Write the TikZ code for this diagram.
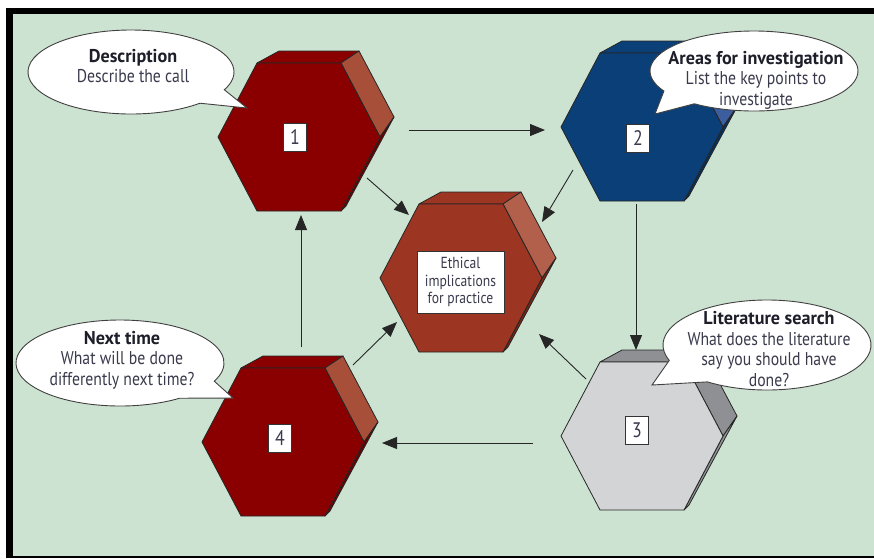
\documentclass[tikz,border=0pt]{standalone}
\usepackage{fontspec}
\setmainfont{PT Sans}[FakeStretch=0.85]
\newfontfamily\ttlfont{PT Sans}[FakeStretch=0.98]
\usetikzlibrary{arrows.meta}
\definecolor{bggreen}{HTML}{CDE3D2}
\definecolor{redfront}{HTML}{8A0000}
\definecolor{redside}{HTML}{A84F3A}
\definecolor{redlow}{HTML}{6A0000}
\definecolor{rustfront}{HTML}{9C3522}
\definecolor{rustside}{HTML}{B2604B}
\definecolor{rustlow}{HTML}{7A2414}
\definecolor{bluefront}{HTML}{0B3F78}
\definecolor{blueside}{HTML}{3D5E9E}
\definecolor{bluelow}{HTML}{082F5A}
\definecolor{greyfront}{HTML}{D3D4D6}
\definecolor{greyside}{HTML}{8F9093}
\definecolor{txt}{HTML}{3A3A4C}
\definecolor{ttl}{HTML}{1E1E2A}
\newcommand{\hexprism}[6]{%
 \begin{scope}[shift={(#1,#2)}]
  \filldraw[hexline, fill=#4] (-42,-74) -- (-20,-86) -- (60,-86) -- (42,-74) -- cycle;
  \filldraw[hexline, fill=#5] (42,-74) -- (60,-86) -- (95,-20) -- (81,0) -- cycle;
  \filldraw[hexline, fill=#6] (81,0) -- (95,-20) -- (47,69) -- (42,74) -- cycle;
  \filldraw[hexline, fill=#3] (-42,-74) -- (42,-74) -- (81,0) -- (42,74) -- (-42,74) -- (-81,0) -- cycle;
 \end{scope}}
\newcommand{\bubble}[8]{%
 \filldraw[bubbleline] (#1,#2) ++(#6:#3 and #4)
   arc[start angle=#6, end angle={#5+360}, x radius=#3, y radius=#4] -- (#7,#8) -- cycle;}
\newcommand{\ttl}[1]{{\ttlfont\bfseries\color{ttl}#1}}
\begin{document}
\begin{tikzpicture}[x=1pt,y=-1pt,
  hexline/.style={draw=black!85, line width=0.8pt, line join=round},
  bubbleline/.style={draw=black!75, line width=0.9pt, fill=white},
  numbox/.style={draw=black!80, fill=white, line width=0.6pt, minimum width=23pt, minimum height=28pt, inner sep=0pt, font=\fontsize{21}{21}\selectfont, text=txt},
  btext/.style={align=center, text=txt, font=\fontsize{18.5}{20.5}\selectfont},
  conn/.style={draw=black!85, line width=0.9pt, -{Triangle[length=15pt,width=12pt]}}]
\useasboundingbox (0,0) rectangle (874,558);
\fill[white] (0,0) rectangle (874,558);
\fill[black] (6,8) rectangle (874,558);
\fill[bggreen] (13,14) rectangle (874,556);
% hexagonal prisms
\hexprism{299}{137}{redfront}{redfront}{redside}{redlow}
\hexprism{642}{127}{bluefront}{bluefront}{blueside}{bluelow}
\hexprism{642}{436}{greyfront}{greyside}{greyside}{greyside}
\hexprism{283}{442}{redfront}{redfront}{redside}{redlow}
\hexprism{461}{278}{rustfront}{rustfront}{rustside}{rustlow}
% labels
\node[numbox] (n1) at (295,137) {1};
\node[numbox] (n2) at (638,138) {2};
\node[numbox] (n3) at (637,430) {3};
\node[numbox] (n4) at (280,438) {4};
\node[draw=black!80, fill=white, line width=0.6pt, minimum width=87pt, minimum height=62pt, inner sep=0pt, align=center, text=txt, font=\fontsize{16}{17.5}\selectfont] (nc) at (460.5,282) {Ethical\\implications\\for practice};
% connectors
\coordinate (a1s) at (409,130); \coordinate (a1e) at (545,130);
\coordinate (a2s) at (636,204); \coordinate (a2e) at (636,350);
\coordinate (a3s) at (533,443); \coordinate (a3e) at (382,443);
\coordinate (a4s) at (301,347); \coordinate (a4e) at (301,215);
\coordinate (c1s) at (367,178); \coordinate (c1e) at (409,215);
\coordinate (c2s) at (573,170); \coordinate (c2e) at (542,222);
\coordinate (c3s) at (586,379); \coordinate (c3e) at (539,334);
\coordinate (c4s) at (353,365); \coordinate (c4e) at (397,322);
\draw[conn] (a1s) -- (a1e);
\draw[conn] (a2s) -- (a2e);
\draw[conn] (a3s) -- (a3e);
\draw[conn] (a4s) -- (a4e);
\draw[conn] (c1s) -- (c1e);
\draw[conn] (c2s) -- (c2e);
\draw[conn] (c3s) -- (c3e);
\draw[conn] (c4s) -- (c4e);
% speech bubbles
\bubble{131}{72}{103}{42}{25}{48}{247}{108}
\bubble{754}{71}{104}{40}{125}{150}{655}{114}
\bubble{767}{345}{104}{45}{125}{160}{652}{385}
\bubble{120}{363}{104}{43}{25}{55}{233}{398}
\node[btext] (b1) at (133,66) {\ttl{Description}\\Describe the call};
\node[btext] (b2) at (756,80) {\ttl{Areas for investigation}\\List the key points to\\investigate};
\node[btext] (b3) at (769,349) {\ttl{Literature search}\\What does the literature\\say you should have\\done?};
\node[btext] (b4) at (122,360) {\ttl{Next time}\\What will be done\\differently next time?};
\end{tikzpicture}
\end{document}
